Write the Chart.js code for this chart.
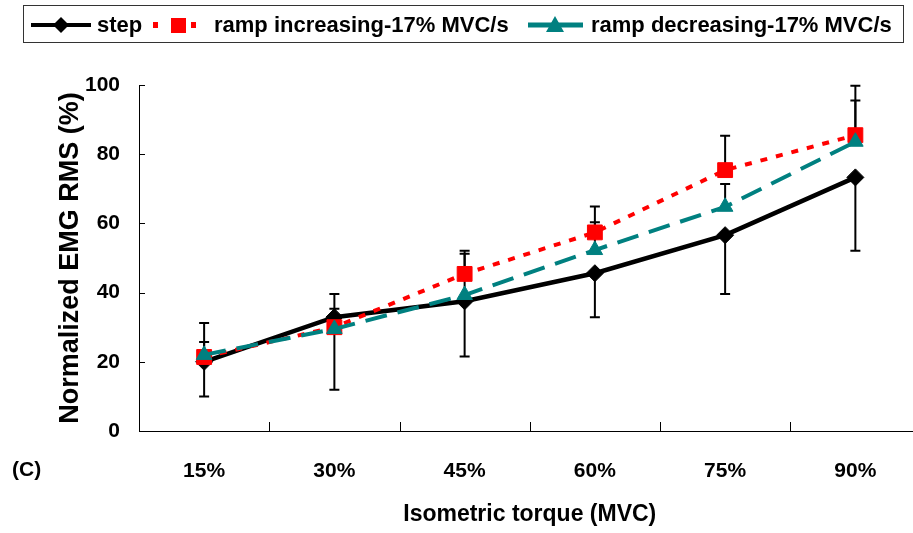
<!DOCTYPE html>
<html>
<head>
<meta charset="utf-8">
<script src="https://cdn.jsdelivr.net/npm/chart.js@4"></script>
<style>
  html, body { margin: 0; padding: 0; background: #fff; overflow: hidden; }
  #wrap { position: relative; width: 913px; height: 533px; overflow: hidden; }
  #chart { position: absolute; left: 0; top: 0; }
  .lbl { position: absolute; font-family: "Liberation Sans", Arial, sans-serif; font-weight: bold; color: #000; white-space: nowrap; }
  #legend { position: absolute; left: 23px; top: 5px; width: 881px; height: 38px; border: 1px solid #333; box-sizing: border-box; }
  #legend svg { position: absolute; left: 0; top: 0; }
  #legend span { position: absolute; top: 6px; font-size: 22px; line-height: 26px; }
</style>
</head>
<body>
<div id="wrap">
  <canvas id="chart" width="932" height="533"></canvas>
  <div id="legend" class="lbl">
    <svg width="881" height="38">
      <line x1="7" y1="19" x2="67" y2="19" stroke="#000" stroke-width="4"/>
      <polygon points="37,11 45,19 37,27 29,19" fill="#000"/>
      <rect x="129" y="16" width="5" height="6" fill="#f00"/>
      <rect x="147" y="12" width="15" height="15" fill="#f00"/>
      <rect x="167" y="16" width="5" height="6" fill="#f00"/>
      <line x1="504" y1="19" x2="559" y2="19" stroke="#008080" stroke-width="5"/>
      <polygon points="531,10 540,26 522,26" fill="#008080"/>
    </svg>
    <span style="left:73px">step</span>
    <span style="left:190px">ramp increasing-17% MVC/s</span>
    <span style="left:567px">ramp decreasing-17% MVC/s</span>
  </div>
  <div class="lbl" style="left:12px; top:457px; font-size:21px;">(C)</div>
</div>
<script>
// chart data
const categories = ['15%', '30%', '45%', '60%', '75%', '90%'];
const yTicks = [0, 20, 40, 60, 80, 100];

const stepValues = [20, 32.9, 37.5, 45.6, 56.6, 73.3];
const stepErrDown = [10, 21, 16, 12.7, 17, 21.2];

const rampIncValues = [21.4, 30, 45.4, 57.4, 75.4, 85.5];
const rampIncErrUp = [9.8, 9.6, 6.7, 7.5, 9.9, 14.3];

const rampDecValues = [22, 29.5, 39.3, 52.3, 64.8, 83.6];
const rampDecErrUp = [3.7, 5.8, 11.9, 8, 6.6, 11.9];

const FONT = '"Liberation Sans", Arial, sans-serif';

// black error bars, one-sided, drawn under the markers
const errorBars = {
    id: 'errorBars',
    beforeDatasetsDraw(chart) {
        const ctx = chart.ctx;
        const x = chart.scales.x, y = chart.scales.y;
        ctx.save();
        ctx.strokeStyle = '#000';
        ctx.lineWidth = 2;
        chart.data.datasets.forEach(ds => {
            ds.data.forEach((v, i) => {
                const px = x.getPixelForValue(i);
                const end = ds.errDir > 0 ? v + ds.err[i] : v - ds.err[i];
                const p0 = y.getPixelForValue(v);
                const p1 = y.getPixelForValue(end);
                ctx.beginPath();
                ctx.moveTo(px, p0);
                ctx.lineTo(px, p1);
                ctx.moveTo(px - 5, p1);
                ctx.lineTo(px + 5, p1);
                ctx.stroke();
            });
        });
        ctx.restore();
    }
};

// short inward tick marks like the original
const innerTicks = {
    id: 'innerTicks',
    afterDraw(chart) {
        const ctx = chart.ctx;
        const x = chart.scales.x, y = chart.scales.y;
        const area = chart.chartArea;
        ctx.save();
        ctx.strokeStyle = '#000';
        ctx.lineWidth = 1;
        ctx.beginPath();
        yTicks.forEach(t => {
            const py = Math.round(y.getPixelForValue(t)) + 0.5;
            ctx.moveTo(area.left, py);
            ctx.lineTo(area.left + 6, py);
        });
        for (let i = 0; i < categories.length - 1; i++) {
            const px = Math.round((x.getPixelForValue(i) + x.getPixelForValue(i + 1)) / 2) + 0.5;
            ctx.moveTo(px, area.bottom);
            ctx.lineTo(px, area.bottom - 9);
        }
        ctx.stroke();
        ctx.restore();
    }
};

new Chart(document.getElementById('chart'), {
    type: 'line',
    data: {
        labels: categories,
        datasets: [
            {
                label: 'step',
                data: stepValues,
                err: stepErrDown,
                errDir: -1,
                borderColor: '#000',
                backgroundColor: '#000',
                borderWidth: 4.5,
                pointStyle: 'rectRot',
                pointRadius: 8.5,
                pointBorderWidth: 1,
                order: 2
            },
            {
                label: 'ramp increasing-17% MVC/s',
                data: rampIncValues,
                err: rampIncErrUp,
                errDir: 1,
                borderColor: '#ff0000',
                backgroundColor: '#ff0000',
                borderWidth: 4,
                borderDash: [7, 9],
                pointStyle: 'rect',
                pointRadius: 10.5,
                pointBorderWidth: 1,
                order: 1
            },
            {
                label: 'ramp decreasing-17% MVC/s',
                data: rampDecValues,
                err: rampDecErrUp,
                errDir: 1,
                borderColor: '#008080',
                backgroundColor: '#008080',
                borderWidth: 4,
                borderDash: [22, 11],
                pointStyle: 'triangle',
                pointRadius: 9,
                pointBorderWidth: 1,
                order: 0
            }
        ]
    },
    options: {
        responsive: false,
        animation: false,
        layout: { padding: { top: 85, left: 0, right: 0, bottom: 0 } },
        plugins: {
            legend: { display: false },
            tooltip: { enabled: false }
        },
        scales: {
            x: {
                offset: true,
                grid: { display: false, drawTicks: false, tickLength: 0 },
                border: { display: true, color: '#000', width: 1 },
                ticks: {
                    color: '#000',
                    padding: 28,
                    font: { family: FONT, size: 21, weight: 'bold' }
                },
                title: {
                    display: true,
                    text: 'Isometric torque (MVC)',
                    color: '#000',
                    font: { family: FONT, size: 23, weight: 'bold' },
                    padding: { top: 0, bottom: 5 }
                },
                afterFit(scale) { scale.height = 102; }
            },
            y: {
                min: 0,
                max: 100,
                grid: { display: false, drawTicks: false, tickLength: 0 },
                border: { display: true, color: '#000', width: 1 },
                ticks: {
                    stepSize: 20,
                    color: '#000',
                    padding: 19,
                    font: { family: FONT, size: 21, weight: 'bold' }
                },
                title: {
                    display: true,
                    text: 'Normalized EMG RMS (%)',
                    color: '#000',
                    font: { family: FONT, size: 27, weight: 'bold' },
                    padding: { top: 54, bottom: 0 }
                },
                afterFit(scale) { scale.width = 139; }
            }
        }
    },
    plugins: [errorBars, innerTicks]
});
</script>
</body>
</html>
